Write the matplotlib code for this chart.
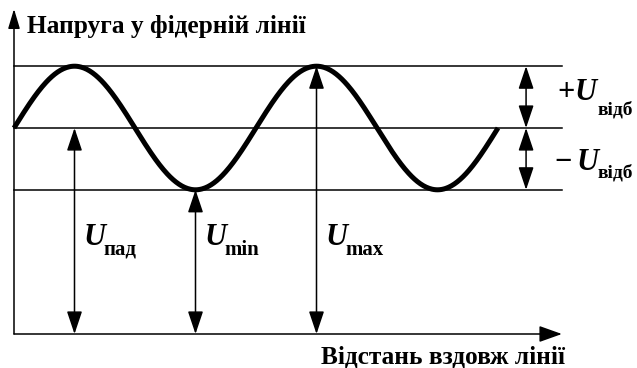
import numpy as np
import matplotlib.pyplot as plt
from matplotlib.patches import FancyArrowPatch

# levels (in units of the incident voltage) and positions (in wavelengths)
U_PAD = 1.0           # incident wave amplitude
U_VIDB = 0.3          # reflected wave amplitude
WAVE_END = 2.0        # curve drawn over two wavelengths
LINE_END = 2.264      # right end of the guide lines / x axis
Y_TIP = 1.578         # top of the y axis arrow
SIDE_X = 2.116        # x of the +/- U_vidb arrows

arrow_x = [0.25, 0.75, 1.25]
arrow_top = [U_PAD, U_PAD - U_VIDB, U_PAD + U_VIDB]
arrow_sub = ['пад', 'min', 'max']

title_y = 'Напруга у фідерній лінії'
title_x = 'Відстань вздовж лінії'

SERIF = ['Liberation Serif', 'DejaVu Serif']

# pixel scale of the reference: 242 px per wavelength, 206 px per unit
PX_X, PX_Y = 242.0, 206.0
W, H = 637, 368
X0, Y0 = 14, 334


def arrow(ax, p0, p1, style, hl=14, hw=4.7, lw=1.1):
    a = FancyArrowPatch(p0, p1, arrowstyle=f'{style},head_length={hl},head_width={hw}',
                        mutation_scale=1, shrinkA=0, shrinkB=0, color='black', lw=lw)
    ax.add_patch(a)


def label(ax, px, py, s, size, italic=False):
    # px, py: offsets in reference pixels from the axes origin
    ax.text(px / PX_X, py / PX_Y, s, fontsize=size, fontweight='bold',
            fontstyle='italic' if italic else 'normal', family=SERIF,
            ha='left', va='baseline')


fig = plt.figure(figsize=(W / 100, H / 100), dpi=100)
ax = fig.add_axes([0, 0, 1, 1])
ax.set_xlim(-X0 / PX_X, (W - X0) / PX_X)
ax.set_ylim(-(H - Y0) / PX_Y, Y0 / PX_Y)
ax.axis('off')

# guide lines
for lev in [U_PAD - U_VIDB, U_PAD, U_PAD + U_VIDB]:
    ax.plot([0, LINE_END], [lev, lev], color='black', lw=1.1)

# axes with arrows
arrow(ax, (0, 0), (LINE_END, 0), '-|>', hl=14, hw=5)
arrow(ax, (0, 0), (0, Y_TIP), '-|>', hl=12, hw=3.6)

# standing wave
x = np.linspace(0, WAVE_END, 500)
y = U_PAD + U_VIDB * np.sin(2 * np.pi * x)
ax.plot(x, y, color='black', lw=3.6, solid_capstyle='butt')

# vertical double arrows
for xa, top in zip(arrow_x, arrow_top):
    arrow(ax, (xa, 0), (xa, top), '<|-|>')

arrow(ax, (SIDE_X, U_PAD), (SIDE_X, U_PAD + U_VIDB), '<|-|>')
arrow(ax, (SIDE_X, U_PAD - U_VIDB), (SIDE_X, U_PAD), '<|-|>')

# labels
U_SIZE = 22
SUB_SIZE = 15
for xa, sub in zip(arrow_x, arrow_sub):
    px = xa * PX_X
    label(ax, px + 9, 89, 'U', U_SIZE, italic=True)
    label(ax, px + 29, 79, sub, SUB_SIZE)

label(ax, 543, 234, '+', U_SIZE)
label(ax, 561, 234, 'U', U_SIZE, italic=True)
label(ax, 584, 219, 'відб', 14)

label(ax, 540, 164, '−', U_SIZE)
label(ax, 563, 164, 'U', U_SIZE, italic=True)
label(ax, 584, 156, 'відб', 14)

ax.text(13 / PX_X, 301 / PX_Y, title_y, fontsize=18.3, fontweight='bold',
        family=SERIF, ha='left', va='baseline')
ax.text(551 / PX_X, -30 / PX_Y, title_x, fontsize=18.3, fontweight='bold',
        family=SERIF, ha='right', va='baseline')

fig.savefig('out.png', dpi=100)
